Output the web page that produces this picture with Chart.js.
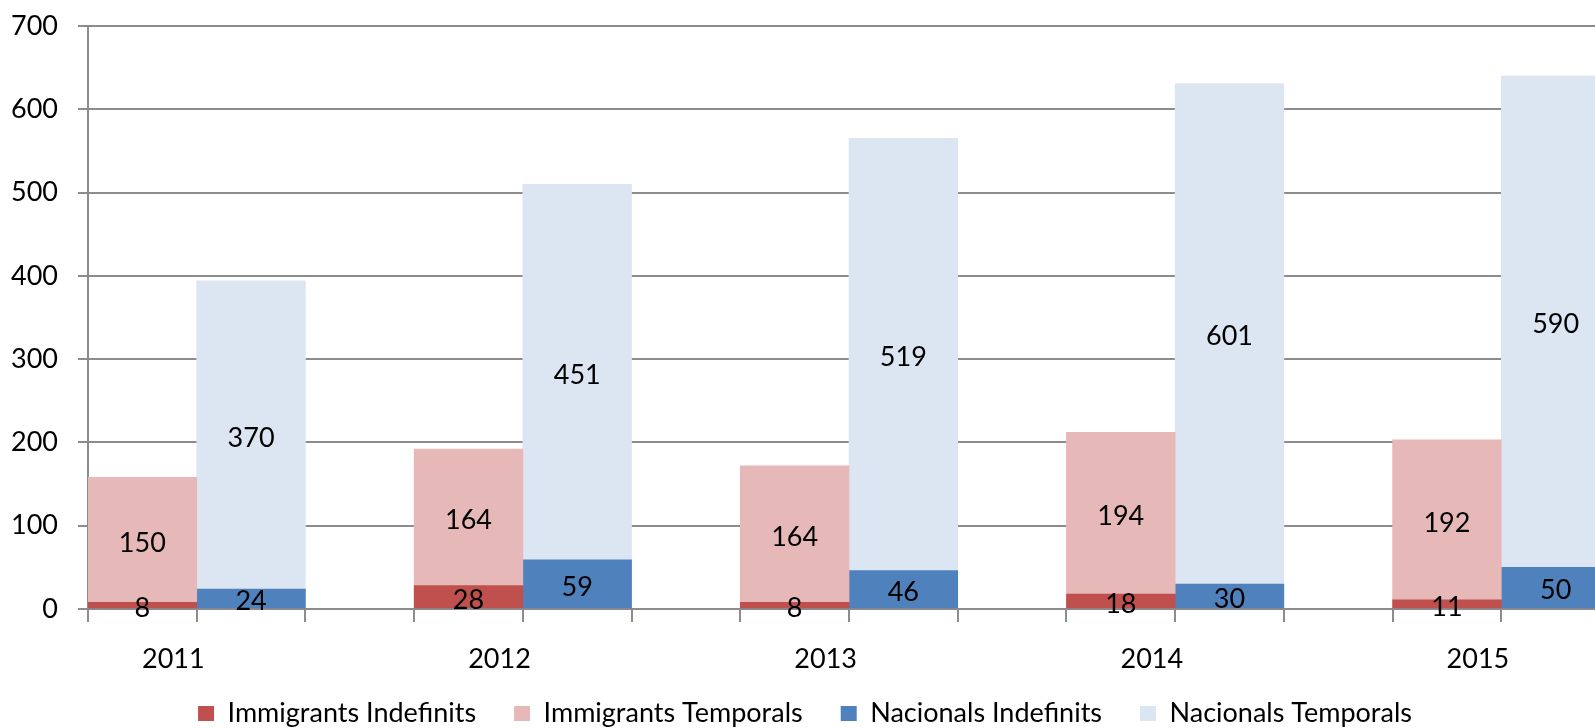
<!DOCTYPE html>
<html>
<head>
<meta charset="utf-8">
<script src="https://cdn.jsdelivr.net/npm/chart.js@4.4.1/dist/chart.umd.min.js"></script>
<style>
  html, body { margin:0; padding:0; background:#fff; overflow:hidden; }
  #wrap { width:1610px; height:728px; }
</style>
</head>
<body>
<div id="wrap"><canvas id="chart"></canvas></div>
<script>
// ================== Data ==================
const years    = ['2011', '2012', '2013', '2014', '2015'];
const immIndef = [8, 28, 8, 18, 11];
const immTemp  = [150, 164, 164, 194, 192];
const nacIndef = [24, 59, 46, 30, 50];
const nacTemp  = [370, 451, 519, 601, 590];
const yTicks   = [0, 100, 200, 300, 400, 500, 600, 700];

// each year gets 3 slots: immigrants bar, nacionals bar, empty gap
const labels = years.flatMap(y => [y, '', '']);
function slots(vals, pos){
  const a = new Array(years.length * 3).fill(null);
  vals.forEach((v, i) => { a[i * 3 + pos] = v; });
  return a;
}

const FONT = { family: 'Lato, "Open Sans", sans-serif', size: 27 };
const GRID = '#8c8c8c';

// ================== Value labels ==================
const valueLabels = {
  id: 'valueLabels',
  afterDatasetsDraw(chart){
    const ctx = chart.ctx;
    ctx.save();
    ctx.font = `${FONT.size}px ${FONT.family}`;
    ctx.fillStyle = '#000';
    ctx.textAlign = 'center';
    ctx.textBaseline = 'middle';
    chart.data.datasets.forEach((ds, di) => {
      const meta = chart.getDatasetMeta(di);
      meta.data.forEach((bar, i) => {
        const v = ds.data[i];
        if (v == null || i > chart.scales.x.max) return;
        const { x, y, base } = bar.getProps(['x', 'y', 'base'], true);
        ctx.fillText(String(v), x, (y + base) / 2 + 3);
      });
    });
    ctx.restore();
  }
};

// ================== Chart ==================
new Chart(document.getElementById('chart'), {
  type: 'bar',
  data: {
    labels,
    datasets: [
      { label: 'Immigrants Indefinits', data: slots(immIndef, 0), backgroundColor: '#C0504D' },
      { label: 'Immigrants Temporals',  data: slots(immTemp, 0),  backgroundColor: '#E6B9B8' },
      { label: 'Nacionals Indefinits',  data: slots(nacIndef, 1), backgroundColor: '#4F81BD' },
      { label: 'Nacionals Temporals',   data: slots(nacTemp, 1),  backgroundColor: '#DCE6F2' },
    ]
  },
  options: {
    responsive: true,
    maintainAspectRatio: false,
    animation: false,
    events: [],
    datasets: { bar: { barPercentage: 1, categoryPercentage: 1, borderWidth: 0, skipNull: true } },
    layout: { padding: { top: 26, right: 0, bottom: 0, left: 0 } },
    plugins: {
      legend: {
        position: 'bottom',
        maxHeight: 66,
        labels: { font: FONT, color: '#000', boxWidth: 16, boxHeight: 15, padding: 38 }
      },
      tooltip: { enabled: false }
    },
    scales: {
      x: {
        stacked: true,
        max: 13,
        afterFit: s => { s.height = 53; },
        grid: { drawOnChartArea: false, offset: true, color: GRID, lineWidth: 2, tickLength: 13 },
        border: { color: GRID, width: 2 },
        // mirror so the year labels are not clipped to the short axis box; negative padding pushes them below the axis
        ticks: { font: FONT, color: '#000', autoSkip: false, maxRotation: 0, mirror: true, labelOffset: 31, padding: -66 }
      },
      y: {
        stacked: true,
        min: 0, max: 700,
        afterBuildTicks: s => { s.ticks = yTicks.map(v => ({ value: v })); },
        afterFit: s => { s.width = 88; s.paddingTop = 0; s.paddingBottom = 0; },
        grid: { color: GRID, lineWidth: 2, tickLength: 10 },
        border: { color: GRID, width: 2 },
        ticks: { font: FONT, color: '#000', padding: 20 }
      }
    }
  },
  plugins: [valueLabels]
});
</script>
</body>
</html>
